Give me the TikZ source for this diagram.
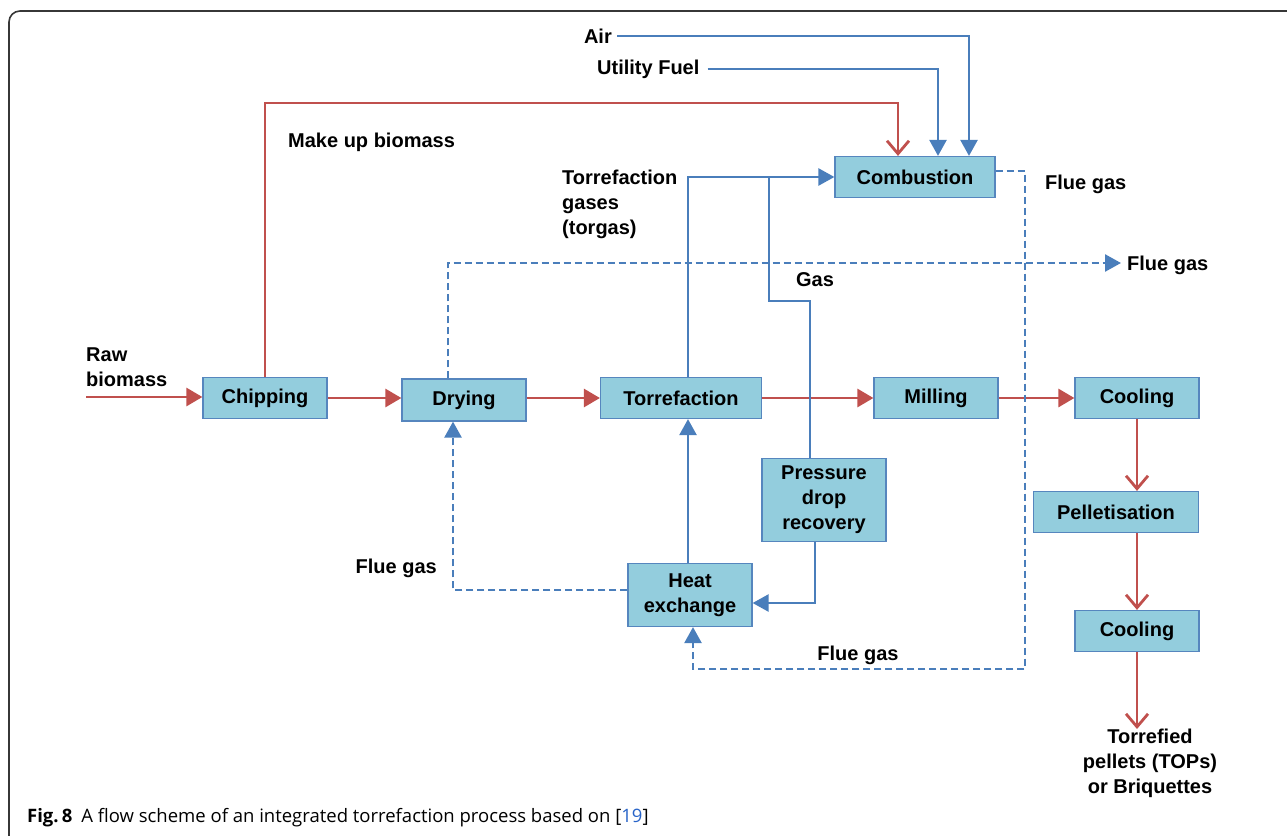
\documentclass[tikz,border=0pt]{standalone}
\usepackage{fontspec}
\setmainfont{Liberation Sans}
\newfontfamily\capfont{Open Sans}
\usetikzlibrary{positioning}
\usetikzlibrary{arrows.meta}
\definecolor{boxfill}{RGB}{147,205,221}
\definecolor{boxline}{RGB}{86,134,190}
\definecolor{feedred}{RGB}{192,80,77}
\definecolor{gasblue}{RGB}{74,126,187}
\definecolor{framegray}{RGB}{55,55,55}
\definecolor{citeblue}{RGB}{40,100,200}

\begin{document}
\begin{tikzpicture}[x=1pt,y=-1pt,
 unit/.style={draw=boxline,line width=1.2pt,fill=boxfill,minimum width=124pt,minimum height=41pt,align=center,inner sep=2pt,font=\bfseries\fontsize{20}{25}\selectfont},
 lbl/.style={inner sep=0pt,align=left,font=\bfseries\fontsize{20}{25}\selectfont},
 feed/.style={draw=feedred,line width=2.8pt,-{Triangle[length=16pt,width=18pt]}},
 feeddown/.style={draw=feedred,line width=2.8pt,-{Straight Barb[length=13pt,width=22pt]}},
 gas/.style={draw=gasblue,line width=2.5pt,-{Triangle[length=16pt,width=17pt]}},
 flue/.style={gas,dash pattern=on 7pt off 4pt}]
 \useasboundingbox (0,0) rectangle (1287,835);
 \draw[framegray,line width=1.6pt,rounded corners=11pt] (9,840) -- (9,11) -- (1290,11);
 % units
 \node[unit] (chip) at (265,398) {Chipping};
 \node[unit,minimum height=42pt] (dry) at (464,400) {Drying};
 \node[unit,minimum width=161pt] (torr) at (681,398) {Torrefaction};
 \node[unit] (mill) at (936,398) {Milling};
 \node[unit] (cool) at (1137,398) {Cooling};
 \node[unit,minimum width=165pt] (pell) at (1116,512) {Pelletisation};
 \node[unit] (cooltwo) at (1137,631) {Cooling};
 \node[unit,minimum width=160pt] (comb) at (915,177) {Combustion};
 \node[unit,minimum height=83pt] (pdr) at (824,500) {Pressure\\drop\\recovery};
 \node[unit,minimum height=63pt] (hex) at (690,595) {Heat\\exchange};
 % labels
 \node[lbl,anchor=north west] (raw) at (86,348) {Raw\\biomass};
 \node[lbl,anchor=west] (makeup) at (288,142) {Make up biomass};
 \node[lbl,anchor=east] (air) at (612,36) {Air};
 \node[lbl,anchor=west] (util) at (597,69) {Utility Fuel};
 \node[lbl,anchor=north west] (torgas) at (562,170) {Torrefaction\\gases\\(torgas)};
 \node[lbl] (gaslbl) at (815,280) {Gas};
 \node[lbl,anchor=west] (fluecomb) at (1045,184) {Flue gas};
 \node[lbl,anchor=west] (flueout) at (1127,265) {Flue gas};
 \node[lbl,anchor=east] (fluedry) at (437,568) {Flue gas};
 \node[lbl] (fluehex) at (858,655) {Flue gas};
 \node[lbl,align=center,anchor=north] (tops) at (1150,729) {Torrefied\\pellets (TOPs)\\or Briquettes};
 \node[anchor=base west,inner sep=0pt,font=\capfont\fontsize{18.5}{22}\selectfont] (cap) at (27,822)
   {\textbf{Fig.\,8}\hspace{9pt}A flow scheme of an integrated torrefaction process based on [\textcolor{citeblue}{19}]};
 \coordinate (rawin) at (86,397);
 \coordinate (gasj) at (769,177);
 \coordinate (flueend) at (1121,263);
 % solid flow
 \draw[feed] (rawin) -- (rawin -| chip.west);
 \draw[feed] (chip.east) -- (chip.east -| dry.west);
 \draw[feed] (dry.east |- torr) -- (torr.west);
 \draw[feed] (torr.east) -- (mill.west);
 \draw[feed] (mill.east) -- (cool.west);
 \draw[feeddown] (cool.south) -- (cool.south |- pell.north);
 \draw[feeddown] (pell.south -| cooltwo) -- (cooltwo.north);
 \draw[feeddown] (cooltwo.south) -- (cooltwo.south |- tops.north);
 \draw[feeddown] (chip.north) -- (chip.north |- 0,103) -| ([xshift=-17pt]comb.north);
 % gas lines
 \draw[gas] (air.east) ++(5,0) -| ([xshift=54pt]comb.north);
 \draw[gas] (util.east) ++(8,0) -| ([xshift=23pt]comb.north);
 \draw[gas] ([xshift=7pt]torr.north) |- (comb.west);
 \draw[gas,-] (gasj) |- ([xshift=-14pt]pdr.north |- 0,301) -- ([xshift=-14pt]pdr.north);
 \draw[gas] ([xshift=-9pt]pdr.south) |- ([yshift=-8pt]hex.east);
 \draw[gas] ([xshift=-2pt]hex.north) -- ([xshift=-2pt]hex.north |- torr.south);
 % flue gas
 \draw[flue] ([yshift=6pt]comb.east) -| (1025,669) -| ([xshift=3pt]hex.south);
 \draw[flue] ([xshift=-16pt]dry.north) |- (flueend);
 \draw[flue] ([yshift=5pt]hex.west) -| ([xshift=-11pt]dry.south);
\end{tikzpicture}
\end{document}
